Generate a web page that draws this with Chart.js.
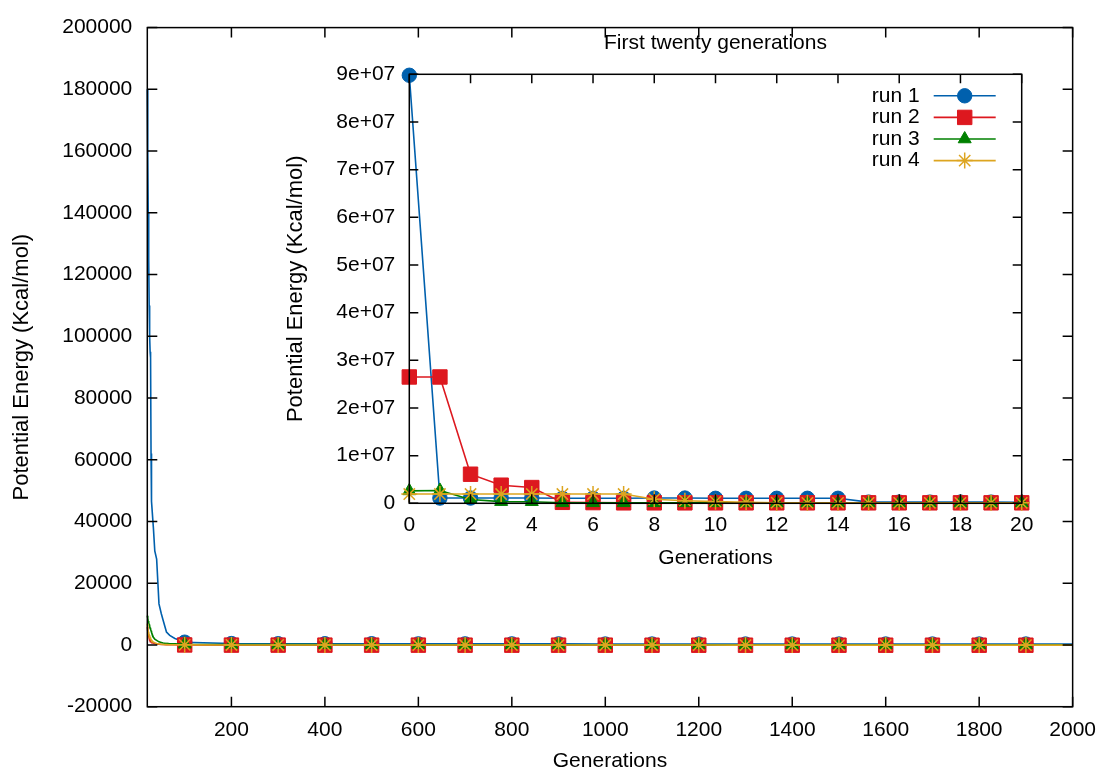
<!DOCTYPE html>
<html>
<head>
<meta charset="utf-8">
<title>Potential energy per generation</title>
<script src="https://cdn.jsdelivr.net/npm/chart.js@4/dist/chart.umd.min.js"></script>
<style>
  html, body { margin: 0; padding: 0; background: #ffffff; }
  #wrap { position: relative; width: 1107px; height: 772px; }
  #wrap canvas { position: absolute; left: 0; top: 0; }
</style>
</head>
<body>
<div id="wrap">
  <canvas id="mainChart" width="1107" height="772"></canvas>
  <canvas id="insetChart" width="1107" height="772"></canvas>
</div>
<script>
// ---- Full run: generations 20..2000 ----
const mainGenerations = [20, 21, 22, 23, 24, 25, 26, 27, 28, 29, 33, 36, 40, 45, 50, 54, 61, 68, 79, 90,
  100, 200, 300, 400, 500, 600, 700, 800, 900, 1000, 1100, 1200, 1300, 1400, 1500, 1600, 1700, 1800, 1900, 2000];
const run1Main = [180000, 160000, 140000, 125000, 110000, 100000, 95000, 93000, 62000, 46500, 38000, 30500, 27800, 13300, 10100, 7900, 4200, 3100, 2100, 1500,
  900, 450, 400, 400, 400, 350, 350, 350, 350, 300, 300, 300, 300, 300, 300, 300, 300, 300, 300, 300];
const run2Main = [5800, 4500, 3600, 2900, 2400, 2000, 1700, 1400, 1200, 1000, 650, 500, 350, 250, 180, 140, 100, 80, 60, 40,
  0, -50, -50, -60, -60, -60, -70, -70, -70, -70, -80, -80, -80, -80, -80, -80, -80, -80, -80, -80];
const run3Main = [9500, 8600, 7800, 7200, 6600, 6100, 5600, 5100, 4600, 4100, 2500, 1900, 1500, 1000, 800, 650, 500, 400, 350, 300,
  250, 150, 100, 100, 80, 80, 60, 60, 50, 50, 50, 40, 40, 40, 30, 30, 30, 30, 30, 30];
const run4Main = [6900, 5400, 4300, 3600, 3200, 2900, 2500, 2100, 1800, 1500, 900, 700, 450, 300, 220, 170, 120, 90, 70, 50,
  30, 0, 0, -20, -20, -20, -30, -30, -30, -30, -30, -30, -40, -40, -40, -40, -40, -40, -40, -40];

// ---- First twenty generations ----
const insetGenerations = [0, 1, 2, 3, 4, 5, 6, 7, 8, 9, 10, 11, 12, 13, 14, 15, 16, 17, 18, 19, 20];
const run1Inset = [89800000, 1100000, 1100000, 1100000, 1100000, 1050000, 1050000, 1050000, 1100000, 1100000, 1050000,
  1050000, 1050000, 1050000, 1050000, 250000, 250000, 250000, 250000, 250000, 200000];
const run2Inset = [26500000, 26500000, 6100000, 3800000, 3300000, 200000, 150000, 100000, 100000, 100000, 100000,
  100000, 100000, 100000, 100000, 100000, 100000, 100000, 100000, 100000, 100000];
const run3Inset = [2600000, 2700000, 800000, 350000, 330000, 100000, 100000, 100000, 100000, 100000, 100000,
  80000, 80000, 80000, 80000, 80000, 80000, 80000, 80000, 80000, 80000];
const run4Inset = [1950000, 1950000, 1950000, 1950000, 1950000, 1950000, 1950000, 1950000, 850000, 550000, 350000,
  200000, 120000, 100000, 100000, 100000, 100000, 100000, 100000, 100000, 100000];

// ---- Labels and ticks ----
const runNames = ['run 1', 'run 2', 'run 3', 'run 4'];
const mainXTicks = [200, 400, 600, 800, 1000, 1200, 1400, 1600, 1800, 2000];
const mainYTicks = [-20000, 0, 20000, 40000, 60000, 80000, 100000, 120000, 140000, 160000, 180000, 200000];
const insetXTicks = [0, 2, 4, 6, 8, 10, 12, 14, 16, 18, 20];
const insetYTicks = [0, 10000000, 20000000, 30000000, 40000000, 50000000, 60000000, 70000000, 80000000, 90000000];
const insetYTickLabels = ['0', '1e+07', '2e+07', '3e+07', '4e+07', '5e+07', '6e+07', '7e+07', '8e+07', '9e+07'];
const xTitle = 'Generations';
const yTitle = 'Potential Energy (Kcal/mol)';
const insetTitle = 'First twenty generations';

// ---- Styling ----
const FONT = '"Liberation Sans", Arial, Helvetica, sans-serif';
const FONT_SIZE = 21;
const Y_TITLE_SIZE = 22;
const runColors = ['#0060ad', '#dd181f', '#008000', '#dda520'];
const runStyles = [
  { pointStyle: 'circle', radius: 7.2, borderWidth: 1 },
  { pointStyle: 'rect', radius: 10.2, borderWidth: 1 },
  { pointStyle: 'triangle', radius: 7.5, borderWidth: 1 },
  { pointStyle: 'star', radius: 8, borderWidth: 1.5 }
];

function xy(xs, ys) { return xs.map((x, i) => ({ x: x, y: ys[i] })); }

function makeDatasets(xs, series, markerTest) {
  return series.map((ys, i) => ({
    label: runNames[i],
    data: xy(xs, ys),
    borderColor: runColors[i],
    backgroundColor: runColors[i],
    borderWidth: 1.6,
    pointStyle: runStyles[i].pointStyle,
    pointBackgroundColor: runColors[i],
    pointBorderColor: runColors[i],
    pointBorderWidth: runStyles[i].borderWidth,
    pointRadius: (c) => (markerTest(c.raw ? c.raw.x : NaN) ? runStyles[i].radius : 0),
    pointHoverRadius: 0,
    tension: 0,
    clip: false,
    // run 1 lies underneath, run 4 on top
    order: series.length - i
  }));
}

// Inward tick marks on all four sides plus the plot frame
const frameTicks = {
  id: 'frameTicks',
  afterDatasetsDraw(chart, args, opts) {
    const { ctx, chartArea: a } = chart;
    const sx = chart.scales.x, sy = chart.scales.y;
    const len = opts.tickLength || 9;
    ctx.save();
    ctx.strokeStyle = '#000';
    ctx.lineWidth = 1.5;
    ctx.beginPath();
    sx.ticks.forEach(t => {
      const px = sx.getPixelForValue(t.value);
      ctx.moveTo(px, a.bottom); ctx.lineTo(px, a.bottom - len);
      ctx.moveTo(px, a.top); ctx.lineTo(px, a.top + len);
    });
    sy.ticks.forEach(t => {
      const py = sy.getPixelForValue(t.value);
      ctx.moveTo(a.left, py); ctx.lineTo(a.left + len, py);
      ctx.moveTo(a.right, py); ctx.lineTo(a.right - len, py);
    });
    ctx.stroke();
    ctx.strokeRect(a.left, a.top, a.right - a.left, a.bottom - a.top);
    ctx.restore();
  }
};

function drawMarker(ctx, style, x, y) {
  if (Chart.helpers && Chart.helpers.drawPoint) {
    Chart.helpers.drawPoint(ctx, { pointStyle: style.pointStyle, rotation: 0, radius: style.radius, borderWidth: style.borderWidth }, x, y);
    return;
  }
  const r = style.radius;
  ctx.beginPath();
  if (style.pointStyle === 'circle') { ctx.arc(x, y, r, 0, Math.PI * 2); ctx.fill(); ctx.stroke(); }
  else if (style.pointStyle === 'rect') { const s = r * Math.SQRT1_2; ctx.rect(x - s, y - s, 2 * s, 2 * s); ctx.fill(); ctx.stroke(); }
  else if (style.pointStyle === 'triangle') {
    ctx.moveTo(x, y - r); ctx.lineTo(x + r * 0.866, y + r / 2); ctx.lineTo(x - r * 0.866, y + r / 2); ctx.closePath(); ctx.fill(); ctx.stroke();
  } else {
    const d = r * Math.SQRT1_2;
    ctx.moveTo(x - r, y); ctx.lineTo(x + r, y); ctx.moveTo(x, y - r); ctx.lineTo(x, y + r);
    ctx.moveTo(x - d, y - d); ctx.lineTo(x + d, y + d); ctx.moveTo(x - d, y + d); ctx.lineTo(x + d, y - d); ctx.stroke();
  }
}

// Key in the upper right of the inset: name, then a line sample with its marker
const runKey = {
  id: 'runKey',
  afterDraw(chart) {
    const { ctx, chartArea: a } = chart;
    ctx.save();
    ctx.font = FONT_SIZE + 'px ' + FONT;
    ctx.textAlign = 'right';
    ctx.textBaseline = 'middle';
    chart.data.datasets.forEach((ds, i) => {
      const yy = a.top + 21.5 + i * 21.6;
      ctx.fillStyle = '#000';
      ctx.fillText(ds.label, a.right - 102, yy);
      ctx.strokeStyle = ds.borderColor;
      ctx.lineWidth = ds.borderWidth;
      ctx.beginPath();
      ctx.moveTo(a.right - 88, yy); ctx.lineTo(a.right - 26, yy);
      ctx.stroke();
      ctx.fillStyle = ds.pointBackgroundColor;
      ctx.strokeStyle = ds.pointBorderColor;
      ctx.lineWidth = ds.pointBorderWidth;
      drawMarker(ctx, runStyles[i], a.right - 57, yy);
    });
    ctx.restore();
  }
};

// Caption over the inset plot
const insetCaption = {
  id: 'insetCaption',
  afterDraw(chart) {
    const { ctx, chartArea: a } = chart;
    ctx.save();
    ctx.font = FONT_SIZE + 'px ' + FONT;
    ctx.fillStyle = '#000';
    ctx.textAlign = 'center';
    ctx.textBaseline = 'middle';
    ctx.fillText(insetTitle, (a.left + a.right) / 2, a.top - 31);
    ctx.restore();
  }
};

function axisFont(lh, size) { return { family: FONT, size: size || FONT_SIZE, lineHeight: lh }; }

function baseScale(opts) {
  return Object.assign({
    type: 'linear',
    grid: { display: false, drawTicks: false },
    border: { display: false },
  }, opts);
}

// ---- Main chart ----
new Chart(document.getElementById('mainChart'), {
  type: 'line',
  data: { datasets: makeDatasets(mainGenerations, [run1Main, run2Main, run3Main, run4Main], g => g % 100 === 0 && g < 2000) },
  plugins: [frameTicks],
  options: {
    responsive: false,
    animation: false,
    events: [],
    layout: { padding: { left: 0, top: 23.3, right: 29.3, bottom: 0 } },
    plugins: { legend: { display: false }, tooltip: { enabled: false }, frameTicks: { tickLength: 10 } },
    scales: {
      x: baseScale({
        position: 'bottom', min: 20, max: 2000,
        afterBuildTicks: s => { s.ticks = mainXTicks.map(v => ({ value: v })); },
        afterFit: s => { s.height = 65.3; },
        ticks: { font: axisFont(1.2), color: '#000', padding: 11, maxRotation: 0, autoSkip: false, callback: v => String(v) },
        title: { display: true, text: xTitle, color: '#000', font: axisFont(1), padding: { top: 0, bottom: 0 } }
      }),
      y: baseScale({
        position: 'left', min: -20000, max: 200000,
        afterBuildTicks: s => { s.ticks = mainYTicks.map(v => ({ value: v })); },
        afterFit: s => { s.width = 147.3; },
        ticks: { font: axisFont(1.2), color: '#000', padding: 15, autoSkip: false, callback: v => String(v) },
        title: { display: true, text: yTitle, color: '#000', font: axisFont(1, Y_TITLE_SIZE), padding: { top: 11, bottom: 0 } }
      })
    }
  }
});

// ---- Inset chart ----
new Chart(document.getElementById('insetChart'), {
  type: 'line',
  data: { datasets: makeDatasets(insetGenerations, [run1Inset, run2Inset, run3Inset, run4Inset], () => true) },
  plugins: [frameTicks, runKey, insetCaption],
  options: {
    responsive: false,
    animation: false,
    events: [],
    layout: { padding: { left: 270, top: 74.3, right: 85.3, bottom: 203.7 } },
    plugins: { legend: { display: false }, tooltip: { enabled: false }, frameTicks: { tickLength: 9 } },
    scales: {
      x: baseScale({
        position: 'bottom', min: 0, max: 20,
        afterBuildTicks: s => { s.ticks = insetXTicks.map(v => ({ value: v })); },
        afterFit: s => { s.height = 65; },
        ticks: { font: axisFont(1.2), color: '#000', padding: 9, maxRotation: 0, autoSkip: false, callback: v => String(v) },
        title: { display: true, text: xTitle, color: '#000', font: axisFont(1), padding: { top: 0, bottom: 0 } }
      }),
      y: baseScale({
        position: 'left', min: 0, max: 90000000,
        afterBuildTicks: s => { s.ticks = insetYTicks.map(v => ({ value: v })); },
        afterFit: s => { s.width = 139.3; },
        ticks: { font: axisFont(1.2), color: '#000', padding: 14, autoSkip: false,
          callback: (v, i) => insetYTickLabels[insetYTicks.indexOf(v)] },
        title: { display: true, text: yTitle, color: '#000', font: axisFont(1, Y_TITLE_SIZE), padding: { top: 15, bottom: 0 } }
      })
    }
  }
});
</script>
</body>
</html>
